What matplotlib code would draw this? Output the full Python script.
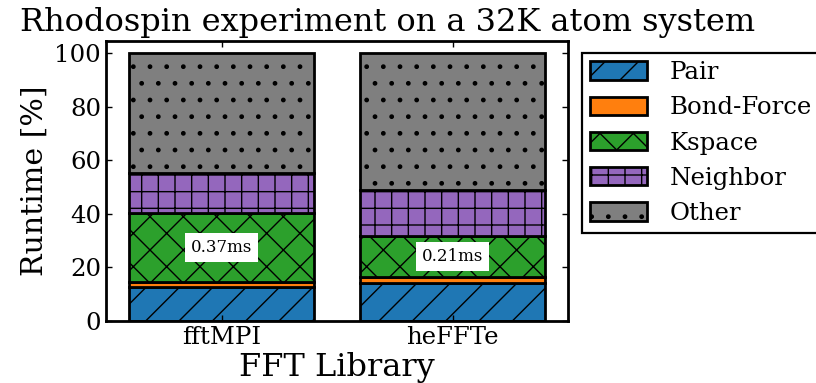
import matplotlib
matplotlib.use("Agg")
import matplotlib.pyplot as plt
import numpy as np

# Runtime breakdown (percent of total) per FFT backend
libraries = ["fftMPI", "heFFTe"]
components = ["Pair", "Bond-Force", "Kspace", "Neighbor", "Other"]
pair = [12.8, 14.3]
bond_force = [1.6, 2.0]
kspace = [25.8, 15.5]
neighbor = [15.2, 16.9]
other = [44.6, 51.3]
kspace_times = ["0.37ms", "0.21ms"]

colors = ["#1f77b4", "#ff7f0e", "#2ca02c", "#9467bd", "#7f7f7f"]
hatches = ["//", "", "xx", "++", ".."]

plt.rcParams["font.family"] = ["DejaVu Serif"]
plt.rcParams["hatch.linewidth"] = 0.5
plt.rcParams["axes.linewidth"] = 1.0

fig = plt.figure(figsize=(4.08, 1.915), dpi=200)
ax = fig.add_axes([0.1299, 0.162, 0.5662, 0.731])

x = np.arange(len(libraries))
bottom = np.zeros(len(libraries))
series = [pair, bond_force, kspace, neighbor, other]
for name, vals, c, h in zip(components, series, colors, hatches):
    ax.bar(x, vals, 0.8, bottom=bottom, color=c, edgecolor="black",
           linewidth=1.0, hatch=h, label=name)
    if name == "Kspace":
        for xi, b, v, t in zip(x, bottom, vals, kspace_times):
            ax.text(xi, b + v / 2, t, ha="center", va="center", fontsize=6,
                    bbox=dict(facecolor="white", edgecolor="none", pad=2.1))
    bottom += np.array(vals)

ax.set_xlim(-0.5, 1.5)
ax.set_ylim(0, 104.5)
ax.set_xticks(x)
ax.set_xticklabels(libraries)
ax.set_yticks([0, 20, 40, 60, 80, 100])
ax.tick_params(direction="in", length=2.2, width=0.5, labelsize=8.8,
               top=True, right=True, pad=1.8)
ax.set_xlabel("FFT Library", fontsize=11.5, labelpad=1)
ax.set_ylabel("Runtime [%]", fontsize=10.8, labelpad=2)

fig.text(0.475, 0.92, "Rhodospin experiment on a 32K atom system",
         ha="center", va="baseline", fontsize=11.5)

leg = fig.legend(loc="upper left", bbox_to_anchor=(0.713, 0.8616),
                 borderaxespad=0, fontsize=8.8, fancybox=False,
                 edgecolor="black", handlelength=2.34, handleheight=0.78,
                 handletextpad=0.94, labelspacing=0.5, borderpad=0.33,
                 framealpha=1)
leg.get_frame().set_linewidth(0.8)

fig.savefig("out.png", dpi=200)
